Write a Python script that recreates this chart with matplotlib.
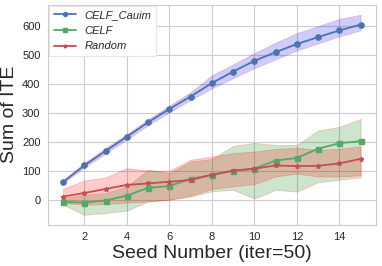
import matplotlib
matplotlib.use("Agg")
import matplotlib.pyplot as plt
import seaborn as sns
import numpy as np

sns.set_style("whitegrid")
plt.rcParams['font.family'] = ['Liberation Sans', 'DejaVu Sans']

seeds = list(range(1, 16))

cauim_mean = [62, 119, 169, 218, 268, 314, 357, 403, 443, 480, 510, 538, 562, 585, 605]
cauim_up = [68, 128, 180, 228, 278, 326, 372, 430, 468, 507, 543, 576, 600, 625, 639]
cauim_lo = [58, 112, 160, 208, 258, 302, 345, 385, 420, 455, 485, 516, 540, 565, 585]

celf_mean = [-7, -9, -2, 15, 42, 48, 73, 86, 101, 108, 136, 145, 177, 196, 203]
celf_up = [7, 18, 24, 47, 104, 93, 133, 141, 187, 197, 190, 190, 240, 252, 280]
celf_lo = [-16, -51, -45, -37, -5, 1, 12, 30, 35, 5, 35, 29, 61, 70, 78]

rand_mean = [12, 24, 38, 52, 57, 63, 69, 87, 101, 108, 119, 117, 118, 126, 142]
rand_up = [39, 67, 78, 110, 102, 101, 139, 150, 162, 167, 176, 180, 173, 177, 185]
rand_lo = [-10, -16, -14, -9, -5, 1, 15, 38, 47, 55, 81, 91, 81, 81, 85]

labels = ['CELF_Cauim', 'CELF', 'Random']

fig = plt.figure(figsize=(3.82, 2.66), dpi=100)
ax = fig.add_axes([0.126, 0.155, 0.857, 0.827])

ax.fill_between(seeds, cauim_lo, cauim_up, facecolor='blue', edgecolor='red', alpha=0.2, linewidth=0.6)
ax.fill_between(seeds, celf_lo, celf_up, facecolor='green', edgecolor='red', alpha=0.2, linewidth=0.6)
ax.fill_between(seeds, rand_lo, rand_up, facecolor='red', edgecolor='red', alpha=0.2, linewidth=0.6)

ax.plot(seeds, cauim_mean, marker='o', color='#4C72B0', markersize=3.8, linewidth=1.3, label=labels[0])
ax.plot(seeds, celf_mean, marker='s', color='#55A868', markersize=3.6, linewidth=1.3, label=labels[1])
ax.plot(seeds, rand_mean, marker='*', color='#C44E52', markersize=3.5, linewidth=1.3, label=labels[2])

ax.set_xticks([2, 4, 6, 8, 10, 12, 14])
ax.set_yticks([0, 100, 200, 300, 400, 500, 600])
ax.tick_params(labelsize=8, colors='.15', pad=2)
ax.set_xlabel('Seed Number (iter=50)', fontsize=14, color='.15', labelpad=2)
ax.set_ylabel('Sum of ITE', fontsize=14, color='.15', labelpad=3)

leg = ax.legend(loc='upper left', frameon=True, prop={'style': 'italic', 'size': 8},
                borderaxespad=0.1, framealpha=1.0, fancybox=False, handlelength=2.0,
                markerscale=0.75)
leg.get_frame().set_edgecolor('0.9')
leg.get_frame().set_linewidth(0.8)

fig.savefig('out.png', dpi=100)
